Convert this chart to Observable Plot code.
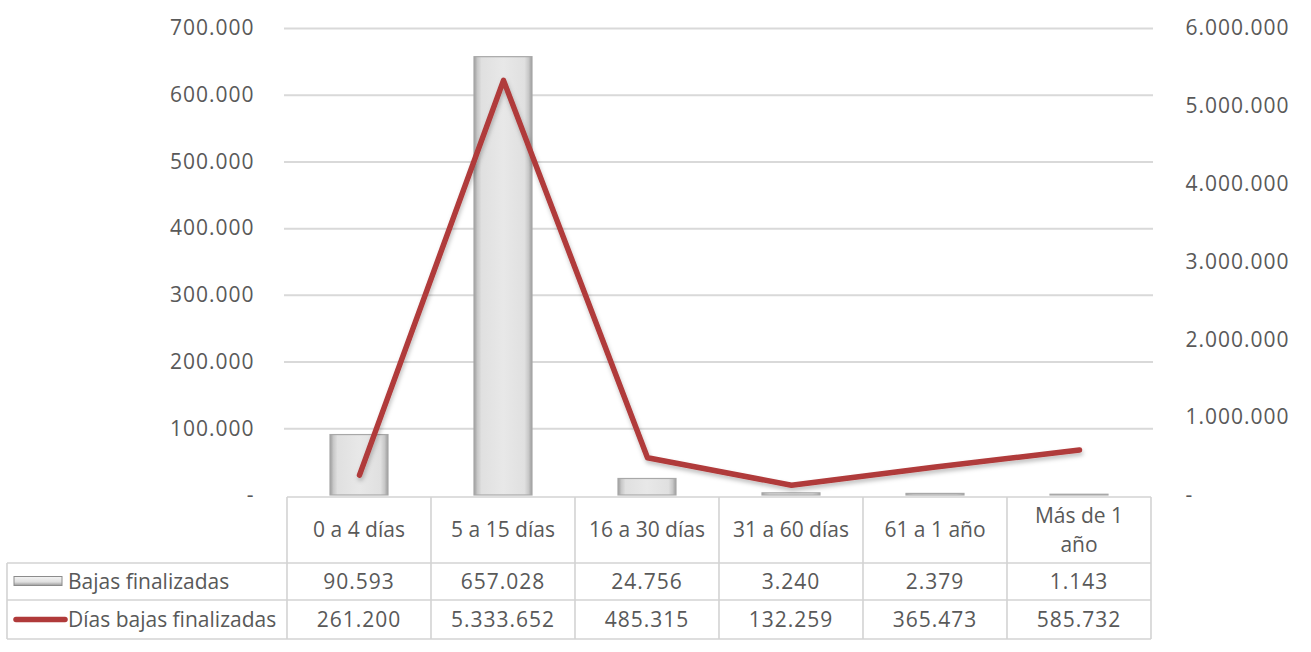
<!DOCTYPE html>
<html>
<head>
<meta charset="utf-8">
<script src="https://cdn.jsdelivr.net/npm/d3@7"></script>
<script src="https://cdn.jsdelivr.net/npm/@observablehq/plot@0.6"></script>
<style>
  body { margin: 0; background: #fff; }
  #wrap { position: relative; width: 1311px; height: 652px; overflow: hidden; background: #fff; }
  .num text, text.num { letter-spacing: 1px; }
</style>
</head>
<body>
<svg width="0" height="0" style="position:absolute">
  <defs>
    <linearGradient id="barGrad" x1="0" x2="1" y1="0" y2="0">
      <stop offset="0%" stop-color="#9c9c9c"/>
      <stop offset="6%" stop-color="#c8c8c8"/>
      <stop offset="13%" stop-color="#e0e0e0"/>
      <stop offset="50%" stop-color="#e8e8e8"/>
      <stop offset="87%" stop-color="#e0e0e0"/>
      <stop offset="94%" stop-color="#c8c8c8"/>
      <stop offset="100%" stop-color="#9c9c9c"/>
    </linearGradient>
    <linearGradient id="keyGrad" x1="0" x2="0" y1="0" y2="1">
      <stop offset="0%" stop-color="#f4f4f4"/>
      <stop offset="60%" stop-color="#e0e0e0"/>
      <stop offset="100%" stop-color="#9a9a9a"/>
    </linearGradient>
    <filter id="lineShadow" x="-10%" y="-10%" width="120%" height="130%">
      <feDropShadow dx="1" dy="3" stdDeviation="2" flood-color="#000" flood-opacity="0.25"/>
    </filter>
  </defs>
</svg>
<div id="wrap"></div>
<script>
// ---- data ----
const categories = ["0 a 4 días", "5 a 15 días", "16 a 30 días", "31 a 60 días", "61 a 1 año", "Más de 1 año"];
const headerLabels = [["0 a 4 días"], ["5 a 15 días"], ["16 a 30 días"], ["31 a 60 días"], ["61 a 1 año"], ["Más de 1", "año"]];
const seriesNames = ["Bajas finalizadas", "Días bajas finalizadas"];
const bajasFinalizadas = [90593, 657028, 24756, 3240, 2379, 1143];
const diasBajasFinalizadas = [261200, 5333652, 485315, 132259, 365473, 585732];
const leftTicks = [0, 100000, 200000, 300000, 400000, 500000, 600000, 700000];
const rightTicks = [0, 1000000, 2000000, 3000000, 4000000, 5000000, 6000000];

// ---- layout ----
const W = 1311, H = 652;
const frameLeft = 284, frameRight = 1153, frameTop = 28, frameBottom = 495;
const yMax = 700000, y2Max = 6000000, k = yMax / y2Max;
const textColor = "#595959";
const font = "'Open Sans', sans-serif";
const fs = 21;

const loc = d3.formatLocale({decimal: ",", thousands: ".", grouping: [3], currency: ["", "€"]});
const fmtN = v => v === 0 ? "-" : loc.format(",")(v);

const rows = categories.map((c, i) => ({cat: c, bajas: bajasFinalizadas[i], dias: diasBajasFinalizadas[i]}));

const chart = Plot.plot({
  width: W, height: H,
  marginLeft: frameLeft, marginRight: W - frameRight,
  marginTop: frameTop, marginBottom: H - frameBottom,
  style: {fontFamily: font, fontSize: fs + "px", color: textColor, background: "transparent", overflow: "visible"},
  x: {type: "band", domain: categories, padding: 0, axis: null},
  y: {domain: [0, yMax], axis: null},
  marks: [
    Plot.ruleY(leftTicks.filter(d => d > 0), {stroke: "#d9d9d9", strokeWidth: 2}),
    Plot.axisY(leftTicks, {anchor: "left", label: null, tickSize: 0, tickPadding: 30, tickFormat: fmtN, fill: textColor, fontSize: fs}),
    Plot.axisY(rightTicks.map(v => v * k), {anchor: "right", label: null, tickSize: 0, tickPadding: 32, tickFormat: v => fmtN(Math.round(v / k / 1000) * 1000), fill: textColor, fontSize: fs}),
    Plot.barY(rows, {x: "cat", y: "bajas", fill: "url(#barGrad)", stroke: "#a8a8a8", strokeWidth: 1.2, insetLeft: 43, insetRight: 43}),
    Plot.line(rows, {x: "cat", y: d => d.dias * k, stroke: "#B03A3A", strokeWidth: 5.5, strokeLinecap: "round", strokeLinejoin: "round"})
  ]
});

const svg = d3.select(chart);
svg.select('g[aria-label="line"]').attr("filter", "url(#lineShadow)");
svg.selectAll('g[aria-label="y-axis tick label"]').classed("num", true);

// ---- data table below the chart (aligned with the Plot x scale) ----
const xs = chart.scale("x");
const bw = xs.bandwidth;
const tg = svg.append("g").attr("font-family", font).attr("font-size", fs).attr("fill", textColor);
const gridC = "#d3d3d3";
const tTop = 497, r1 = 563, r2 = 600, tBot = 639, tLeft = 7;
const colX = categories.map(c => xs.apply(c));
const xEnd = colX[colX.length - 1] + bw;
const line = (x1, y1, x2, y2) => tg.append("line").attr("x1", x1).attr("y1", y1).attr("x2", x2).attr("y2", y2)
  .attr("stroke", gridC).attr("stroke-width", 1.6);
line(colX[0], tTop, xEnd, tTop);
[r1, r2, tBot].forEach(y => line(tLeft, y, xEnd, y));
line(tLeft, r1, tLeft, tBot);
colX.concat([xEnd]).forEach(x => line(x, tTop, x, tBot));

// header labels
categories.forEach((c, i) => {
  const lines = headerLabels[i];
  const cx = colX[i] + bw / 2;
  const cy = (tTop + r1) / 2;
  const lh = 29;
  lines.forEach((t, j) => {
    tg.append("text").attr("x", cx).attr("y", cy + (j - (lines.length - 1) / 2) * lh)
      .attr("text-anchor", "middle").attr("dy", "0.35em").text(t);
  });
});
// values
const rowY = [(r1 + r2) / 2, (r2 + tBot) / 2];
[bajasFinalizadas, diasBajasFinalizadas].forEach((arr, r) => {
  arr.forEach((v, i) => {
    tg.append("text").attr("class", "num").attr("x", colX[i] + bw / 2).attr("y", rowY[r]).attr("dy", "0.35em")
      .attr("text-anchor", "middle").text(fmtN(v));
  });
});
// legend keys + series names
tg.append("rect").attr("x", 14).attr("y", rowY[0] - 5).attr("width", 48).attr("height", 9)
  .attr("fill", "url(#keyGrad)").attr("stroke", "#8c8c8c").attr("stroke-width", 1);
tg.append("line").attr("x1", 16).attr("x2", 65).attr("y1", rowY[1]).attr("y2", rowY[1])
  .attr("stroke", "#B03A3A").attr("stroke-width", 5.5).attr("stroke-linecap", "round");
seriesNames.forEach((s, r) => {
  tg.append("text").attr("x", 68).attr("y", rowY[r]).attr("dy", "0.35em").attr("text-anchor", "start").text(s);
});

document.getElementById("wrap").appendChild(chart);
</script>
</body>
</html>
